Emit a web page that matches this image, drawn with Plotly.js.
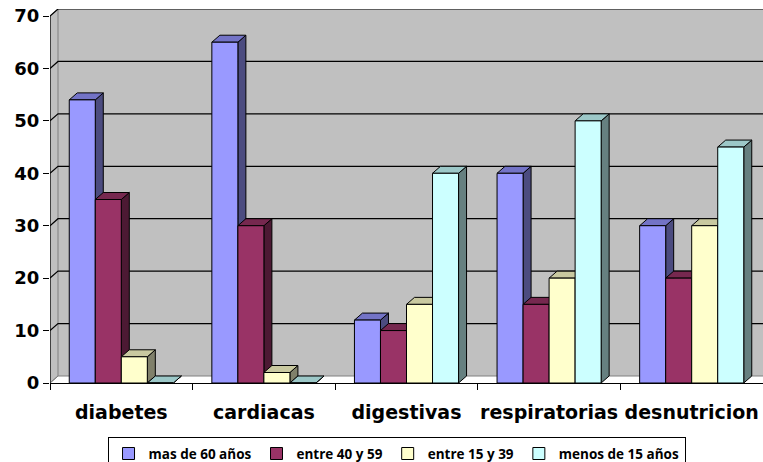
<!DOCTYPE html>
<html>
<head>
<meta charset="utf-8">
<script src="https://cdn.plot.ly/plotly-3.0.1.min.js"></script>
<style>html,body{margin:0;padding:0;background:#fff;}#chart{width:763px;height:462px;}</style>
</head>
<body>
<div id="chart"></div>
<script>
// ---- data ----
const categories = ['diabetes', 'cardiacas', 'digestivas', 'respiratorias', 'desnutricion'];
const seriesNames = ['mas de 60 años', 'entre 40 y 59', 'entre 15 y 39', 'menos de 15 años'];
const mas60 = [54, 65, 12, 40, 30];
const entre40y59 = [35, 30, 10, 15, 20];
const entre15y39 = [5, 2, 15, 20, 30];
const menos15 = [0, 0, 40, 50, 45];
const yTicks = [0, 10, 20, 30, 40, 50, 60, 70];

// ---- styling ----
const frontColors = ['#9999FF', '#993366', '#FFFFCC', '#CCFFFF'];
const topColors = ['#7373C6', '#76284F', '#C9C9A0', '#9CC8C8'];
const sideColors = ['#4C4C80', '#4C1933', '#80806A', '#668080'];
const allSeries = [mas60, entre40y59, entre15y39, menos15];

const W = 763, H = 462;
const margin = {l: 50, r: 0, t: 9, b: 79, autoexpand: false};
const plotW = W - margin.l - margin.r;
const plotH = H - margin.t - margin.b;
const yMaxFront = 70;
const depthPx = {x: 8, y: 7};
const xMin = -0.5, xMax = categories.length - 0.5;
const pxPerX = plotW / (xMax - xMin);
const pxPerY = (plotH - depthPx.y) / yMaxFront;
const dxd = depthPx.x / pxPerX;
const dyd = depthPx.y / pxPerY;
const yTop = yMaxFront + dyd;

const bargap = 0.27;
const groupW = 1 - bargap;
const barW = groupW / allSeries.length;
const xIdx = categories.map((_, i) => i);

const shapes = [];
shapes.push({type: 'path', xref: 'x', yref: 'y', layer: 'below',
  path: `M${xMin + dxd},${dyd} L${xMax + 1},${dyd} L${xMax + 1},${yTop} L${xMin + dxd},${yTop} Z`,
  fillcolor: '#C0C0C0', line: {width: 0}});
shapes.push({type: 'path', xref: 'x', yref: 'y', layer: 'below',
  path: `M${xMin},0 L${xMin + dxd},${dyd} L${xMin + dxd},${yTop} L${xMin},${yMaxFront} Z`,
  fillcolor: '#C0C0C0', line: {color: '#808080', width: 1}});
shapes.push({type: 'path', xref: 'x', yref: 'y', layer: 'below',
  path: `M${xMin},0 L${xMin + dxd},${dyd} L${xMax + 1},${dyd}`,
  line: {color: '#808080', width: 1}});
yTicks.forEach(v => {
  if (v === 0) return;
  shapes.push({type: 'path', xref: 'x', yref: 'y', layer: 'below',
    path: `M${xMin},${v} L${xMin + dxd},${v + dyd} L${xMax + 1},${v + dyd}`,
    line: {color: '#000000', width: 1.2}});
});
shapes.push({type: 'line', xref: 'x', yref: 'y', layer: 'below',
  x0: xMin, x1: xMin, y0: 0, y1: yMaxFront, line: {color: '#000000', width: 1.2}});

allSeries.forEach((vals, j) => {
  vals.forEach((v, i) => {
    const xl = i - groupW / 2 + j * barW, xr = xl + barW;
    shapes.push({type: 'path', xref: 'x', yref: 'y', layer: 'below',
      path: `M${xr},0 L${xr + dxd},${dyd} L${xr + dxd},${v + dyd} L${xr},${v} Z`,
      fillcolor: sideColors[j], line: {color: '#000000', width: 1}});
  });
});
allSeries.forEach((vals, j) => {
  vals.forEach((v, i) => {
    const xl = i - groupW / 2 + j * barW, xr = xl + barW;
    shapes.push({type: 'path', xref: 'x', yref: 'y', layer: 'below',
      path: `M${xl},${v} L${xl + dxd},${v + dyd} L${xr + dxd},${v + dyd} L${xr},${v} Z`,
      fillcolor: topColors[j], line: {color: '#000000', width: 1}});
  });
});

const traces = allSeries.map((vals, j) => ({
  type: 'bar', x: xIdx, y: vals, name: seriesNames[j],
  marker: {color: frontColors[j], line: {color: '#000000', width: 1}},
  hoverinfo: 'x+y+name'
}));

const layout = {
  width: W, height: H, autosize: false,
  margin: margin,
  paper_bgcolor: '#FFFFFF', plot_bgcolor: 'rgba(0,0,0,0)',
  barmode: 'group', bargap: bargap, bargroupgap: 0,
  showlegend: true,
  legend: {orientation: 'h', x: 0.486, xanchor: 'center', y: -0.145, yanchor: 'top',
    bgcolor: '#FFFFFF', bordercolor: '#000000', borderwidth: 1,
    font: {family: 'Open Sans', size: 13.5, color: '#000000', weight: 'bold'},
    traceorder: 'normal', itemwidth: 30},
  xaxis: {type: 'linear', range: [xMin, xMax], fixedrange: true, automargin: false,
    tickvals: xIdx, ticktext: categories,
    ticks: 'outside', ticklen: 12, tickcolor: 'rgba(0,0,0,0)',
    minor: {tickvals: categories.map((_, i) => i - 0.5).concat([xMax]), ticks: 'outside', ticklen: 6, tickcolor: '#000000', tickwidth: 1},
    showgrid: false, zeroline: false,
    showline: true, linecolor: '#000000', linewidth: 1.2,
    tickfont: {family: 'DejaVu Sans', size: 19, color: '#000000', weight: 'bold'}},
  yaxis: {range: [0, yTop], fixedrange: true, automargin: false,
    tickvals: yTicks, ticktext: yTicks.map(String),
    ticks: 'outside', ticklen: 6, tickcolor: '#000000', tickwidth: 1,
    showgrid: false, zeroline: false, showline: false,
    tickfont: {family: 'DejaVu Sans', size: 18, color: '#000000', weight: 'bold'}},
  shapes: shapes
};

Plotly.newPlot('chart', traces, layout, {displayModeBar: false, staticPlot: true});
</script>
</body>
</html>
